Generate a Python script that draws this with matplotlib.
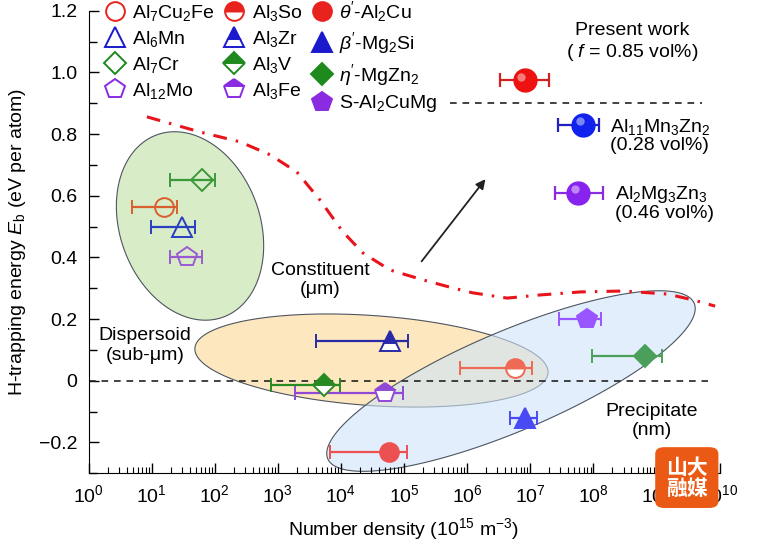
import numpy as np
import matplotlib
matplotlib.use('Agg')
import matplotlib.pyplot as plt
from matplotlib.lines import Line2D
from matplotlib.patches import FancyBboxPatch
from matplotlib.colors import to_rgba
from matplotlib import ticker, transforms

plt.rcParams['font.family'] = ['Liberation Sans', 'DejaVu Sans']
plt.rcParams['mathtext.fontset'] = 'custom'
plt.rcParams['mathtext.rm'] = 'Liberation Sans'
plt.rcParams['mathtext.it'] = 'Liberation Sans:italic'
plt.rcParams['mathtext.bf'] = 'Liberation Sans:bold'

# literature phases: number density (1e15 m^-3), range and H-trapping energy (eV)
phases = ['Al$_7$Cu$_2$Fe', 'Al$_6$Mn', 'Al$_7$Cr', 'Al$_{12}$Mo',
          'Al$_3$So', 'Al$_3$Zr', 'Al$_3$V', 'Al$_3$Fe',
          r"$\theta'$-Al$_2$Cu", r"$\beta'$-Mg$_2$Si", r"$\eta'$-MgZn$_2$", 'S-Al$_2$CuMg']
density = [15.7, 29.9, 62, 35.9, 5.7e6, 5.97e4, 5.43e3, 5.0e4, 5.76e4, 8.2e6, 6.6e8, 7.8e7]
density_lo = [4.9, 9.7, 19.5, 19.5, 7.7e5, 4.0e3, 7.8e2, 1.9e3, 6.7e3, 4.8e6, 9.6e7, 2.85e7]
density_hi = [25.5, 48.6, 100, 62, 1.05e7, 1.15e5, 9.5e3, 9.7e4, 1.1e5, 1.26e7, 1.22e9, 1.3e8]
energy = [0.565, 0.50, 0.65, 0.40, 0.04, 0.13, -0.015, -0.04, -0.23, -0.12, 0.08, 0.20]

# present work
pw_density = [8.2e6, 6.9e7, 5.8e7]
pw_lo = [3.3e6, 2.7e7, 2.5e7]
pw_hi = [2.0e7, 1.23e8, 1.4e8]
pw_energy = [0.975, 0.83, 0.61]

# red dash-dot boundary curve
curve_x = [8.4, 58, 250, 750, 2000, 4650, 1.07e4, 2.24e4, 6.0e4, 2.0e5, 5.9e5,
           1.23e6, 4.3e6, 1.4e7, 6.2e7, 3.0e8, 1.5e9, 3.8e9, 8.5e9]
curve_y = [0.856, 0.807, 0.775, 0.733, 0.677, 0.586, 0.483, 0.414, 0.359, 0.327, 0.301,
           0.285, 0.268, 0.278, 0.288, 0.291, 0.281, 0.262, 0.242]

markers = ['o', '^', 'D', 'p'] * 3
msizes = [13.5, 15, 11.5, 14.5] * 3
fills = ['none'] * 4 + ['top'] * 4 + ['full'] * 4
point_colors = ['#d8602e', '#2a3fc0', '#3a9a3a', '#9a5ad0',
                '#ee6a55', '#2a2aa8', '#2a8a22', '#9048d6',
                '#ec5050', '#4a4af5', '#4aa05a', '#9955ff']
legend_colors = ['#e8221c', '#1a1acc', '#1e8a1e', '#8a2be2'] * 3

fig = plt.figure(figsize=(7.61, 5.53), dpi=100)
ax = fig.add_axes([0.1164, 0.1443, 0.8292, 0.8362])
ax.set_xscale('log')
ax.set_xlim(1, 1e10)
ax.set_ylim(-0.3, 1.2)


def region(cx, cy, a, b, angle, color, alpha=1.0):
    # ellipse drawn in "visual" units (decades) so it looks right on log axis
    pos = ax.get_position()
    w = pos.width * fig.get_figwidth()
    h = pos.height * fig.get_figheight()
    k = (1.5 / h) * (w / 10)
    t = np.linspace(0, 2 * np.pi, 240)
    th = np.radians(angle)
    u = a * np.cos(t) * np.cos(th) - b * np.sin(t) * np.sin(th)
    v = a * np.cos(t) * np.sin(th) + b * np.sin(t) * np.cos(th)
    ax.fill(cx * 10 ** u, cy + v * k, facecolor=to_rgba(color, alpha),
            edgecolor='#4d5560', lw=0.8, zorder=1)


region(40.5, 0.502, 1.537, 1.109, 110, '#d9ecc8')
region(3.04e4, 0.0655, 2.805, 0.713, -4, '#fde7bf')
region(4.94e6, -0.001, 3.154, 0.79, 23, '#cfe4fa', alpha=0.6)

ax.plot([1, 6.6e9], [0, 0], color='#222222', lw=1.2, ls=(0, (4, 3.5)), zorder=2)
ax.plot([5.4e5, 5.3e9], [0.9, 0.9], color='#222222', lw=1.2, ls=(0, (4, 3.5)), zorder=2)
ax.plot(curve_x, curve_y, color='#e8131b', lw=2.2, ls=(0, (4.5, 3, 0.8, 3)), zorder=3)

for i in range(len(phases)):
    ax.errorbar(density[i], energy[i],
                xerr=[[density[i] - density_lo[i]], [density_hi[i] - density[i]]],
                fmt=markers[i], ms=msizes[i], fillstyle=fills[i],
                color=point_colors[i], mec=point_colors[i], mfc=point_colors[i],
                markerfacecoloralt='white', mew=1.4, elinewidth=1.6,
                capsize=5, capthick=1.6, zorder=5)

pw_colors = ['#ee1111', '#1122ee', '#8822ee']
pw_bar = ['#d42020', '#2020c0', '#8a2be2']
shine = transforms.offset_copy(ax.transData, fig=fig, x=-2.5, y=2.5, units='points')
for i in range(3):
    ax.errorbar(pw_density[i], pw_energy[i],
                xerr=[[pw_density[i] - pw_lo[i]], [pw_hi[i] - pw_density[i]]],
                fmt='o', ms=16.5, color=pw_bar[i], mfc=pw_colors[i], mec=pw_colors[i],
                elinewidth=1.6, capsize=5, capthick=1.6, zorder=5)
    ax.plot(pw_density[i], pw_energy[i], 'o', ms=6, color='white', alpha=0.45,
            mec='none', transform=shine, zorder=6)

handles = [Line2D([], [], ls='none', marker=markers[i], ms=msizes[i], fillstyle=fills[i],
                  mfc=legend_colors[i], mec=legend_colors[i], markerfacecoloralt='white',
                  mew=1.4) for i in range(len(phases))]
ax.legend(handles, phases, ncol=3, loc='upper left', bbox_to_anchor=(0.026, 1.025),
          frameon=False, fontsize=14, handlelength=1.0, handletextpad=0.4,
          columnspacing=0.5, labelspacing=0.3, borderpad=0, borderaxespad=0)

ax.text(4.1e8, 1.096, 'Present work\n( $f$ = 0.85 vol%)', ha='center', va='center',
        fontsize=14, linespacing=1.2)
ax.text(1.8e8, 0.796, 'Al$_{11}$Mn$_3$Zn$_2$\n(0.28 vol%)', ha='left', va='center',
        fontsize=14, linespacing=1.0)
ax.text(2.2e8, 0.577, 'Al$_2$Mg$_3$Zn$_3$\n(0.46 vol%)', ha='left', va='center',
        fontsize=14, linespacing=1.0)
ax.text(4650, 0.327, 'Constituent\n(\u03bcm)', ha='center', va='center', fontsize=14,
        linespacing=1.2)
ax.text(7.8, 0.114, 'Dispersoid\n(sub-\u03bcm)', ha='center', va='center', fontsize=14,
        linespacing=1.2)
ax.text(8.5e8, -0.131, 'Precipitate\n(nm)', ha='center', va='center', fontsize=14,
        linespacing=1.2)
ax.annotate('', xy=(2.07e6, 0.661), xytext=(1.78e5, 0.38),
            arrowprops=dict(arrowstyle='-|>', color='#222222', lw=1.3, mutation_scale=14))

ax.spines['top'].set_visible(False)
ax.spines['right'].set_visible(False)
ax.xaxis.set_major_locator(ticker.LogLocator(base=10, numticks=12))
ax.xaxis.set_minor_locator(ticker.LogLocator(base=10, subs=np.arange(2, 10), numticks=12))
ax.xaxis.set_minor_formatter(ticker.NullFormatter())
ax.yaxis.set_major_locator(ticker.MultipleLocator(0.2))
ax.yaxis.set_minor_locator(ticker.MultipleLocator(0.1))
ax.yaxis.set_major_formatter(ticker.FuncFormatter(
    lambda v, p: '0' if abs(v) < 1e-9 else f'{v:.1f}'.replace('-', '\u2212')))
ax.tick_params(which='major', direction='in', length=7, width=1, labelsize=14, pad=8)
ax.tick_params(axis='x', which='minor', direction='in', length=4, width=0.8)
ax.tick_params(axis='y', which='minor', direction='in', length=6, width=1)

ax.set_xlabel('Number density (10$^{15}$ m$^{-3}$)', fontsize=14, labelpad=7)
ax.set_ylabel('H-trapping energy $E_\\mathrm{b}$ (eV per atom)', fontsize=14, labelpad=8)

# watermark logo in the corner
fig.add_artist(FancyBboxPatch((0.861, 0.0814), 0.083, 0.110,
                              boxstyle='round,pad=0,rounding_size=0.012',
                              transform=fig.transFigure, fc='#ea5a14', ec='none', zorder=10))
fig.text(0.9025, 0.1365, '山大\n融媒', ha='center', va='center', color='white',
         fontsize=15, fontweight='bold', family=['Noto Sans CJK SC'], linespacing=1.0,
         zorder=11)

fig.savefig('out.png', dpi=100)
